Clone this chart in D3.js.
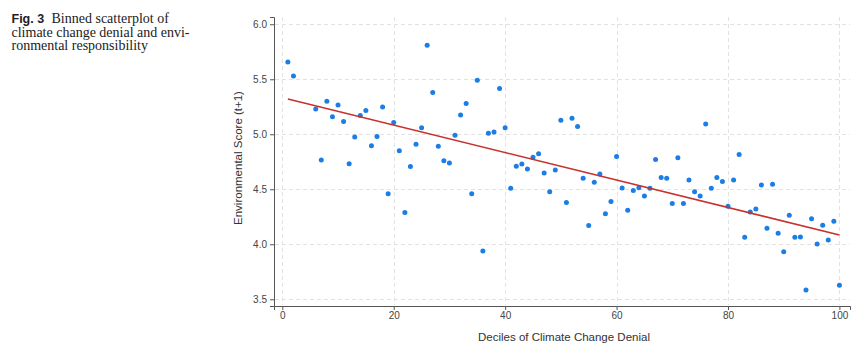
<!DOCTYPE html>
<html><head><meta charset="utf-8">
<script src="https://cdn.jsdelivr.net/npm/d3@7"></script>
<style>body{margin:0;background:#fff}svg{display:block}</style>
</head><body>
<svg id="c" width="865" height="347"></svg>
<script>
const deciles = [1,2,6,7,8,9,10,11,12,13,14,15,16,17,18,19,20,21,22,23,24,25,26,27,28,29,30,
  31,32,33,34,35,36,37,38,39,40,41,42,43,44,45,46,47,48,49,50,51,52,53,54,55,56,57,58,59,60,
  61,62,63,64,65,66,67,68,69,70,71,72,73,74,75,76,77,78,79,80,81,82,83,84,85,86,87,88,89,90,
  91,92,93,94,95,96,97,98,99,100];
const envScore = [5.657,5.53,5.23,4.766,5.30,5.16,5.266,5.115,4.733,4.975,5.17,5.215,4.896,4.98,5.248,4.46,5.106,4.85,4.29,4.706,4.91,
  5.06,5.81,5.38,4.89,4.76,4.74,4.99,5.175,5.28,4.46,5.49,3.94,5.01,5.02,5.415,5.06,
  4.51,4.71,4.73,4.685,4.79,4.824,4.648,4.478,4.675,5.127,4.38,5.145,5.07,4.60,4.17,4.564,4.64,4.278,4.39,4.797,
  4.512,4.31,4.49,4.515,4.44,4.51,4.77,4.606,4.60,4.37,4.787,4.37,4.585,4.478,4.44,5.094,4.51,4.606,4.57,4.345,
  4.585,4.815,4.064,4.294,4.32,4.54,4.145,4.545,4.10,3.933,4.263,4.064,4.067,3.585,4.233,4.003,4.173,4.04,4.21,3.627];
const fitX = [1,100];
const fitY = [5.32,4.085];
const xTicks = [0,20,40,60,80,100];
const yTicks = [3.5,4.0,4.5,5.0,5.5,6.0];
const captionLines = ["climate change denial and envi-","ronmental responsibility"];

const svg = d3.select("#c");
const x = d3.scaleLinear().domain([-1.49,101.9]).range([274,850]);
const y = d3.scaleLinear().domain([3.439,6.066]).range([306,17]);

// caption
const serif = "Liberation Serif, Times New Roman, serif";
const cap = svg.append("g");
const t1 = cap.append("text").attr("x",11.5).attr("y",23).attr("font-size",14);
t1.append("tspan").attr("font-family","Liberation Sans, Arial, sans-serif").attr("font-weight","bold").attr("font-size",12.5).attr("fill","#222").text("Fig. 3");
t1.append("tspan").attr("x",51.5).attr("font-family",serif).attr("fill","#222").text("Binned scatterplot of");
captionLines.forEach((s,i)=>cap.append("text").attr("x",11.5).attr("y",36.8+i*13.6)
  .attr("font-family",serif).attr("font-size",14).attr("fill","#222").text(s));

// grid
const grid = svg.append("g").attr("stroke","#e2e2e2").attr("stroke-width",1).attr("stroke-dasharray","4,3");
grid.selectAll(".h").data(yTicks).join("line")
  .attr("x1",x.range()[0]+1).attr("x2",x.range()[1]).attr("y1",d=>Math.round(y(d))+0.5).attr("y2",d=>Math.round(y(d))+0.5);
grid.selectAll(".v").data(xTicks).join("line")
  .attr("y1",y.range()[1]).attr("y2",y.range()[0]-1).attr("x1",d=>Math.round(x(d))+0.5).attr("x2",d=>Math.round(x(d))+0.5);

// axes
const font = "Liberation Sans, Arial, sans-serif";
const ax = svg.append("g").attr("transform","translate(0,306)")
  .call(d3.axisBottom(x).tickValues(xTicks).tickFormat(d3.format("d")).tickSizeOuter(0).tickSize(4).tickPadding(2));
const ay = svg.append("g").attr("transform","translate(274,0)")
  .call(d3.axisLeft(y).tickValues(yTicks).tickFormat(d3.format(".1f")).tickSizeOuter(0).tickSize(4).tickPadding(3));
[ax,ay].forEach(g=>{
  g.select(".domain").attr("stroke","#555");
  g.selectAll(".tick line").attr("stroke","#555");
  g.selectAll("text").attr("font-family",font).attr("font-size",10).attr("fill","#444");
});

// points
svg.append("g").selectAll("circle").data(deciles).join("circle")
  .attr("cx",d=>x(d)).attr("cy",(d,i)=>y(envScore[i])).attr("r",2.5).attr("fill","#1a7ee6");

// fit line
svg.append("path").datum(fitX.map((d,i)=>[d,fitY[i]]))
  .attr("d",d3.line().x(d=>x(d[0])).y(d=>y(d[1])))
  .attr("fill","none").attr("stroke","#c8302c").attr("stroke-width",1.5);

// titles
svg.append("text").attr("x",564).attr("y",341).attr("text-anchor","middle")
  .attr("font-family",font).attr("font-size",11.5).attr("fill","#333").text("Deciles of Climate Change Denial");
svg.append("text").attr("transform","translate(242,158) rotate(-90)").attr("text-anchor","middle")
  .attr("font-family",font).attr("font-size",11.5).attr("fill","#333").text("Environmental Score (t+1)");
</script>
</body></html>
